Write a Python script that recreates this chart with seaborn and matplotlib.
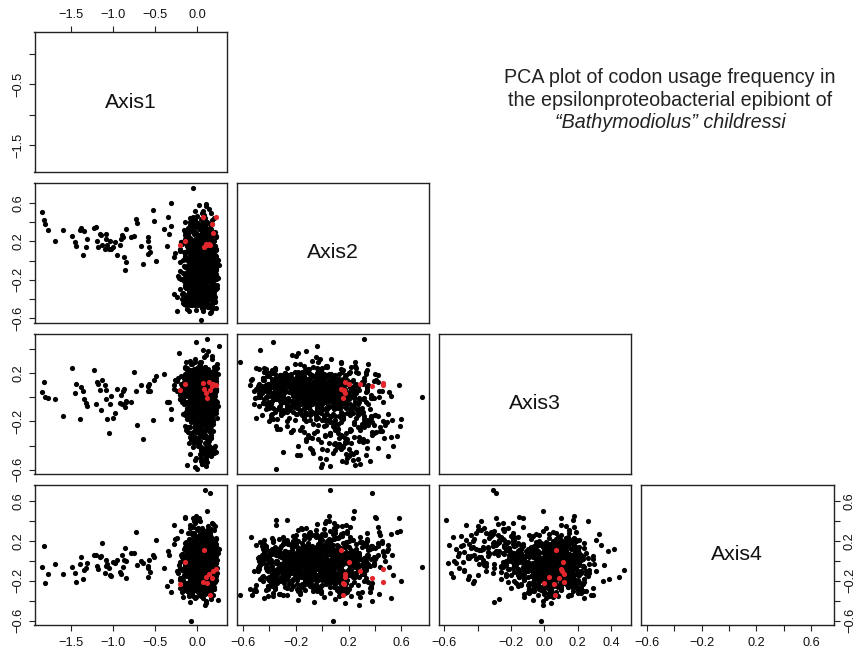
import matplotlib
matplotlib.use("Agg")
import matplotlib.pyplot as plt
import numpy as np
import pandas as pd
import seaborn as sns

sns.set_style("ticks")
plt.rcParams["font.family"] = ["Liberation Sans", "DejaVu Sans"]

# ---------------- data (PC scores) ----------------
axis_names = ["Axis1", "Axis2", "Axis3", "Axis4"]

# genes forming the long negative tail on Axis1
tail_axis1 = [-1.84,-1.82,-1.81,-1.78,-1.69,-1.60,-1.49,-1.45,-1.44,-1.39,-1.38,-1.36,-1.35,-1.32,-1.31,-1.23,-1.20,-1.19,-1.18,-1.15,
              -1.14,-1.13,-1.10,-1.09,-1.08,-1.07,-1.05,-1.04,-1.02,-1.00,-0.98,-0.95,-0.92,-0.91,-0.89,-0.88,-0.87,-0.85,-0.85,-0.86,
              -0.79,-0.75,-0.73,-0.71,-0.67,-0.65,-0.59,-0.58,-0.59,-0.56,-0.57,-0.53,-0.51,-0.49,-0.39,-0.36,-0.35,-0.31]
tail_axis2 = [0.51,0.42,0.38,0.32,0.20,0.32,0.26,0.19,0.15,0.32,0.34,0.06,0.31,0.14,0.23,0.34,0.35,0.21,0.14,0.28,
              0.27,0.16,0.12,0.23,0.28,0.16,0.12,0.21,0.12,0.14,0.19,0.06,0.16,0.23,0.27,0.25,0.04,0.33,-0.01,-0.10,
              0.25,0.26,0.43,0.39,0.15,-0.03,0.25,0.21,0.07,0.09,0.14,0.53,0.41,0.00,0.33,0.15,0.46,0.60]
tail_axis3 = [0.04,0.12,0.00,-0.01,-0.02,-0.16,0.24,0.03,0.11,-0.18,0.08,0.05,-0.02,-0.05,-0.07,0.22,-0.06,0.12,0.11,0.06,
              -0.11,0.14,0.10,0.06,-0.02,-0.18,-0.30,-0.06,0.01,-0.17,-0.13,0.07,-0.05,0.02,-0.06,0.05,0.07,-0.04,-0.03,-0.08,
              -0.04,0.21,0.05,-0.23,0.10,-0.35,0.09,0.05,0.09,0.05,0.11,-0.19,0.14,0.17,0.19,-0.04,-0.04,-0.18]
tail_axis4 = [-0.06,0.15,-0.22,-0.13,-0.03,-0.13,-0.06,-0.12,-0.21,-0.03,0.04,-0.18,-0.09,-0.07,-0.02,0.06,0.06,-0.05,-0.08,0.04,
              0.05,0.18,-0.12,0.01,-0.05,-0.03,-0.07,-0.14,-0.15,-0.01,-0.02,0.01,-0.11,-0.13,0.06,-0.06,0.01,-0.17,0.00,0.13,
              0.08,0.08,0.29,-0.04,0.00,-0.02,-0.16,-0.05,-0.07,-0.11,0.01,0.06,0.04,0.21,-0.07,-0.25,0.10,-0.20]

# broad cloud of genes
core_axis1 = [0.05,-0.08,0.14,0.21,-0.02,0.09,-0.15,0.17,0.03,-0.05,0.11,0.24,-0.11,0.07,0.19,-0.03,0.12,0.01,-0.27,0.16,
              0.08,-0.06,0.22,0.13,-0.09,0.04,0.18,-0.13,0.10,0.02,-0.04,0.15,0.06,-0.18,0.20,0.11,-0.01,0.25,0.07,-0.07,
              0.13,0.00,-0.10,0.17,0.09,-0.22,0.05,0.14,-0.03,0.19,0.03,-0.12,0.10,0.23,-0.06,0.08,0.16,-0.08,0.01,0.12,
              -0.16,0.06,0.20,-0.02,0.11,0.15,-0.09,0.04,0.18,-0.05,0.26,0.09,-0.14,0.02,0.13,0.07,-0.31,0.17,-0.04,0.10,
              0.21,-0.07,0.03,0.14,-0.11,0.08,0.19,0.00,-0.17,0.12,0.05,0.16,-0.03,0.22,0.09,-0.08,0.01,0.15,-0.12,0.06,
              0.11,-0.24,0.18,0.04,-0.06,0.13,0.24,-0.01,0.07,-0.13,0.16,0.10,-0.04,0.02,0.20,-0.09,0.14,0.06,-0.19,0.09,
              -0.02,0.17,0.08,-0.10,0.12,0.03,0.21,-0.05,0.15,-0.15,0.05,0.11,-0.07,0.18,0.00,0.13,-0.21,0.07,0.23,-0.03,
              0.10,0.04,-0.12,0.16,0.19,-0.08,0.02,0.14,-0.28,0.08,0.12,-0.01,0.22,0.05,-0.16,0.17,0.09,-0.06,0.03,0.15,
              -0.04,0.20,0.07,-0.14,0.11,0.01,0.18,-0.09,0.13,0.06,-0.02,0.25,-0.11,0.09,0.16,0.04,-0.20,0.12,0.00,0.19,
              0.14,-0.05,0.08,0.21,-0.17,0.03,0.10,-0.07,0.17,0.05,-0.10,0.13,0.24,-0.03,0.07,-0.23,0.15,0.02,0.11,-0.01,
              0.06,0.18,-0.08,0.12,-0.13,0.20,0.04,0.09,-0.05,0.16,0.01,-0.18,0.14,0.08,-0.02,0.22,0.11,-0.34,0.05,0.13,
              -0.06,0.10,0.17,0.02,-0.12,0.07,0.19,-0.04,0.12,0.15,-0.09,0.03,0.21,-0.15,0.09,0.06,-0.01,0.18,0.11,-0.26]
core_axis2 = [-0.12,0.08,-0.31,0.15,-0.04,-0.22,0.27,-0.09,0.02,-0.41,0.11,-0.17,0.34,-0.01,-0.26,0.06,-0.13,0.19,-0.35,0.00,
              0.23,-0.07,-0.19,0.04,-0.46,0.13,-0.02,-0.28,0.38,-0.11,0.09,-0.15,-0.36,0.17,-0.05,0.30,-0.23,0.01,-0.52,0.12,
              -0.08,0.21,-0.33,-0.03,0.07,-0.18,0.43,-0.12,-0.27,0.05,-0.39,0.16,-0.06,0.25,-0.21,-0.01,0.10,-0.44,0.03,-0.14,
              0.32,-0.10,-0.24,0.14,-0.30,0.02,-0.16,0.20,-0.48,0.08,-0.04,0.28,-0.20,-0.37,0.11,-0.07,0.36,-0.13,-0.02,0.18,
              -0.29,0.06,-0.11,0.24,-0.42,-0.05,0.13,-0.25,0.01,0.40,-0.16,-0.34,0.09,-0.08,0.22,-0.19,0.04,-0.55,0.15,-0.03,
              0.10,-0.38,0.26,-0.14,-0.01,0.17,-0.28,0.05,-0.47,0.31,-0.09,-0.22,0.12,-0.32,0.45,-0.06,0.02,-0.18,0.19,-0.40,
              -0.15,0.03,0.29,-0.26,-0.07,0.14,-0.43,0.08,-0.12,0.21,-0.35,0.00,0.37,-0.20,-0.04,0.11,-0.30,0.16,-0.10,0.52,
              -0.23,0.07,-0.50,0.18,-0.02,-0.13,0.33,-0.29,0.04,-0.08,0.24,-0.37,0.12,-0.17,-0.45,0.09,0.02,-0.21,0.27,-0.06,
              0.15,-0.33,-0.09,0.05,-0.24,0.39,-0.14,-0.03,0.20,-0.49,0.07,-0.18,0.13,-0.36,0.01,0.26,-0.11,-0.27,0.10,-0.05,
              -0.40,0.18,-0.07,0.30,-0.19,0.03,-0.31,0.12,-0.54,0.06,0.22,-0.12,-0.25,0.35,-0.01,-0.16,0.08,-0.43,0.17,-0.09,
              0.02,-0.27,0.14,-0.38,0.25,-0.06,-0.20,0.09,0.42,-0.32,-0.10,0.19,-0.15,0.04,-0.46,0.11,-0.23,0.28,-0.02,-0.34,
              0.16,-0.13,0.06,-0.30,0.21,-0.44,-0.04,0.10,-0.21,0.33,-0.08,0.00,-0.38,0.23,-0.16,0.13,-0.51,0.05,-0.26,0.08]
core_axis3 = [0.05,-0.08,0.12,0.01,0.20,-0.03,0.09,-0.14,0.16,0.03,-0.05,0.27,0.07,-0.11,0.13,0.00,0.22,-0.02,0.10,-0.19,
              0.14,0.02,-0.07,0.18,0.06,-0.16,0.31,0.04,-0.01,0.11,-0.10,0.08,0.24,-0.04,0.15,-0.23,0.03,0.19,-0.06,0.09,
              -0.02,0.21,0.07,-0.12,0.12,0.36,0.00,-0.08,0.17,0.05,-0.15,0.10,0.02,0.26,-0.05,0.14,-0.27,0.08,0.04,-0.09,
              0.16,-0.04,0.11,0.29,-0.13,0.06,0.01,0.20,-0.07,0.13,0.42,-0.01,0.09,-0.18,0.03,0.17,-0.10,0.07,0.23,-0.03,
              0.08,-0.21,0.15,0.02,-0.06,0.33,0.11,-0.11,0.05,0.19,-0.02,0.12,-0.25,0.06,0.25,0.00,-0.14,0.10,0.04,0.16,
              -0.09,0.13,0.03,-0.17,0.22,0.07,-0.04,0.18,0.39,-0.12,0.09,0.01,0.14,-0.07,0.05,-0.30,0.11,0.21,-0.01,0.06,
              0.12,0.00,-0.13,0.17,0.04,0.28,-0.06,0.10,-0.20,0.08,0.15,-0.03,0.02,0.34,-0.10,0.13,0.06,-0.16,0.20,0.01,
              -0.05,0.09,0.24,-0.08,0.14,0.03,-0.22,0.11,0.07,0.18,-0.01,0.45,0.05,-0.12,0.16,-0.04,0.10,0.27,-0.15,0.02,
              0.07,-0.10,0.19,0.04,-0.03,0.13,-0.18,0.22,0.00,0.09,0.31,-0.07,0.15,0.06,-0.24,0.11,0.03,-0.02,0.17,0.08,
              0.20,-0.06,0.02,0.12,-0.14,0.26,0.05,-0.09,0.14,-0.01,0.08,0.38,-0.17,0.10,0.01,0.16,-0.05,0.23,0.04,-0.11,
              0.03,0.15,-0.12,0.09,0.29,-0.02,0.06,-0.20,0.18,0.11,-0.08,0.00,0.21,0.05,-0.15,0.13,0.35,-0.04,0.08,-0.26,
              0.10,-0.03,0.17,0.02,-0.10,0.24,0.07,-0.19,0.12,0.04,0.30,-0.06,0.15,-0.13,0.01,0.19,-0.01,0.09,-0.08,0.14]
core_axis4 = [-0.05,0.12,-0.18,0.03,-0.29,0.20,-0.09,0.07,-0.01,-0.35,0.16,-0.12,0.28,-0.04,0.09,-0.22,0.01,-0.14,0.36,-0.07,
              0.05,-0.26,0.14,-0.02,-0.16,0.24,-0.10,0.00,-0.40,0.11,-0.06,0.18,-0.21,0.04,0.31,-0.13,-0.03,0.08,-0.30,0.15,
              -0.11,0.02,0.22,-0.19,0.06,-0.04,-0.33,0.13,0.41,-0.08,0.01,-0.24,0.10,-0.15,0.19,-0.02,-0.38,0.07,-0.12,0.26,
              0.00,-0.17,0.09,-0.27,0.17,-0.06,0.33,-0.10,0.04,-0.20,0.12,-0.44,-0.01,0.21,-0.13,0.06,-0.31,0.14,-0.05,0.02,
              0.19,-0.08,-0.23,0.10,-0.03,0.27,-0.15,0.05,-0.36,0.13,-0.11,0.00,0.38,-0.19,0.08,-0.06,0.16,-0.28,0.03,-0.14,
              -0.02,0.23,-0.12,0.07,-0.32,0.15,-0.07,0.45,-0.18,0.01,0.11,-0.25,0.04,-0.09,0.20,-0.41,0.09,-0.04,0.30,-0.16,
              0.08,-0.21,0.02,0.18,-0.10,-0.34,0.13,-0.05,0.25,-0.14,0.06,-0.01,-0.27,0.16,-0.08,0.35,-0.19,0.03,0.11,-0.37,
              0.14,-0.04,-0.30,0.09,0.22,-0.12,0.00,-0.22,0.17,-0.07,0.50,-0.16,0.05,-0.33,0.12,-0.02,0.26,-0.09,-0.24,0.07,
              -0.13,0.10,0.29,-0.05,-0.20,0.04,0.15,-0.28,0.01,-0.10,0.21,-0.39,0.06,-0.15,0.32,0.00,-0.07,0.18,-0.23,0.11,
              0.03,-0.29,0.13,-0.11,0.07,0.40,-0.17,-0.03,0.24,-0.08,-0.35,0.10,0.01,-0.21,0.16,-0.12,0.27,0.05,-0.42,-0.01,
              0.17,-0.06,-0.18,0.11,0.02,-0.26,0.20,-0.14,0.34,-0.04,0.08,-0.31,0.14,-0.09,-0.01,0.23,-0.20,0.06,0.12,-0.11,
              -0.24,0.04,0.19,-0.07,0.09,-0.37,0.01,0.28,-0.13,0.15,-0.03,-0.19,0.07,0.43,-0.10,0.00,-0.28,0.13,-0.05,0.22]

# dense centre of the cloud (first batch)
dense_axis1 = [0.07,0.15,-0.03,0.11,0.02,0.19,0.09,-0.08,0.13,0.05,0.17,0.00,0.10,0.22,0.04,-0.05,0.14,0.08,0.18,0.01,
               0.12,-0.01,0.16,0.06,0.20,0.03,-0.10,0.11,0.09,0.15,-0.04,0.07,0.13,0.02,0.21,0.10,-0.02,0.17,0.05,0.12,
               0.04,0.18,0.09,-0.06,0.14,0.01,0.11,0.23,0.06,-0.12,0.16,0.08,0.03,0.19,-0.01,0.13,0.07,0.10,-0.07,0.15,
               0.09,0.02,0.20,0.12,-0.03,0.06,0.17,0.00,0.14,0.08,0.22,-0.09,0.11,0.04,0.16,0.10,0.01,0.18,0.05,-0.04,
               0.13,0.07,-0.02,0.19,0.10,0.03,0.15,-0.11,0.08,0.12,0.00,0.17,0.06,0.21,0.09,-0.05,0.14,0.02,0.11,0.16,
               -0.06,0.10,0.05,0.18,0.13,-0.01,0.08,0.20,0.03,0.15,0.11,-0.08,0.07,0.17,0.01,0.12,0.24,0.04,0.09,-0.03,
               0.16,0.06,0.11,-0.04,0.19,0.08,0.02,0.14,-0.13,0.10,0.05,0.18,0.12,-0.02,0.07,0.21,0.00,0.15,0.09,0.03,
               0.11,-0.07,0.17,0.04,0.09,0.14,-0.01,0.20,0.06,0.12,0.02,-0.10,0.16,0.08,0.13,0.05,0.19,-0.04,0.10,0.07,
               0.03,0.15,0.08,0.22,-0.05,0.12,0.06,0.17,0.01,-0.09,0.14,0.10,0.04,0.19,0.09,-0.02,0.13,0.07,0.18,0.11,
               0.14,0.00,0.09,-0.03,0.16,0.05,0.21,0.11,-0.08,0.07,0.18,0.02,0.13,0.06,-0.01,0.10,0.15,0.04,0.20,0.08,
               -0.02,0.12,0.17,0.07,0.03,0.14,-0.06,0.19,0.10,0.05,0.16,0.01,-0.11,0.13,0.08,0.22,0.04,0.11,0.00,0.15,
               0.09,0.18,0.02,-0.04,0.12,0.06,0.15,0.10,0.20,-0.07,0.08,0.13,0.03,0.17,0.11,-0.01,0.07,0.14,0.05,0.19,
               0.06,-0.03,0.13,0.16,0.01,0.10,0.21,0.04,-0.09,0.15,0.08,0.12,-0.02,0.18,0.07,0.03,0.11,0.23,0.09,0.00,
               0.17,0.05,0.10,-0.05,0.14,0.08,0.02,0.19,0.12,-0.12,0.06,0.16,0.11,0.01,0.13,0.09,-0.03,0.18,0.04,0.10]
dense_axis2 = [-0.14,0.05,-0.27,-0.06,0.18,-0.33,-0.10,0.09,-0.21,0.01,-0.40,-0.03,0.24,-0.17,-0.08,0.12,-0.29,-0.01,-0.45,0.07,
               -0.19,0.15,-0.05,-0.36,0.03,-0.12,0.30,-0.24,-0.09,0.10,-0.31,-0.02,0.20,-0.16,-0.42,0.06,-0.07,-0.26,0.13,-0.11,
               0.00,-0.22,-0.38,0.17,-0.04,-0.15,0.08,-0.30,0.26,-0.12,-0.47,0.02,-0.20,0.11,-0.07,-0.34,0.04,-0.18,0.35,-0.09,
               -0.25,0.09,-0.13,-0.02,-0.41,0.14,-0.06,-0.28,0.21,-0.17,0.03,-0.35,-0.10,0.16,-0.23,-0.04,0.07,-0.49,-0.14,0.28,
               -0.08,-0.32,0.11,-0.19,0.01,-0.43,0.19,-0.05,-0.26,0.06,-0.13,0.33,-0.37,-0.01,0.10,-0.22,-0.11,0.04,-0.30,0.15,
               0.02,-0.16,-0.44,0.08,-0.09,0.22,-0.27,-0.03,0.13,-0.20,-0.38,0.05,-0.12,0.18,-0.06,-0.31,0.00,-0.15,0.39,-0.24,
               -0.11,0.12,-0.35,-0.07,0.04,-0.21,0.27,-0.14,-0.46,0.09,-0.02,-0.28,0.16,-0.18,-0.05,0.06,-0.39,-0.10,0.23,-0.03,
               -0.29,0.01,-0.12,0.19,-0.24,-0.06,0.10,-0.36,-0.15,0.31,-0.01,-0.20,0.07,-0.42,-0.08,0.14,-0.27,0.03,-0.13,-0.50,
               0.17,-0.09,-0.23,0.05,-0.33,-0.04,0.25,-0.17,0.00,-0.40,0.11,-0.12,-0.26,0.08,-0.07,0.37,-0.19,-0.02,-0.34,0.13,
               -0.05,-0.28,0.03,-0.15,0.20,-0.37,-0.10,0.06,-0.22,0.15,-0.03,-0.45,0.09,-0.18,0.29,-0.08,-0.30,0.02,-0.13,0.10,
               -0.21,0.07,-0.39,-0.11,0.14,-0.04,-0.25,0.21,-0.16,0.00,-0.32,0.11,-0.07,-0.48,0.04,-0.19,0.18,-0.02,-0.28,0.34,
               -0.12,0.02,0.26,-0.35,-0.08,0.13,-0.18,-0.41,0.06,-0.01,-0.23,0.17,-0.14,0.08,-0.30,-0.05,0.22,-0.20,0.01,-0.37,
               0.09,-0.26,-0.06,0.15,-0.43,-0.11,0.04,-0.17,0.32,-0.02,-0.31,0.10,-0.09,-0.22,0.19,-0.38,0.00,-0.14,0.12,-0.04,
               -0.33,0.06,-0.16,-0.01,0.24,-0.27,-0.07,0.11,-0.44,0.03,-0.20,0.16,-0.10,-0.36,0.07,-0.03,-0.24,0.20,-0.12,0.00]
dense_axis3 = [0.06,-0.03,0.12,0.02,0.18,-0.08,0.09,0.04,0.15,-0.01,0.07,0.22,0.00,0.11,-0.12,0.05,0.14,0.03,-0.05,0.19,
               0.08,0.13,-0.02,0.05,0.25,0.01,-0.09,0.10,0.16,0.04,-0.15,0.07,0.12,-0.04,0.20,0.02,0.09,-0.07,0.14,0.06,
               -0.01,0.11,0.03,0.17,-0.06,0.08,0.13,-0.11,0.05,0.21,0.00,0.10,-0.03,0.15,0.06,-0.18,0.12,0.04,0.27,0.07,
               0.14,0.02,-0.05,0.09,0.19,0.05,-0.13,0.11,0.01,0.16,0.07,-0.02,0.23,0.04,-0.08,0.12,0.08,0.00,0.17,-0.10,
               0.03,0.18,0.09,-0.04,0.13,0.06,0.01,-0.16,0.10,0.15,0.04,0.21,-0.01,0.08,0.12,-0.07,0.05,0.26,0.02,0.11,
               0.10,-0.06,0.14,0.03,0.07,-0.12,0.17,0.00,0.12,0.05,-0.03,0.19,0.08,-0.09,0.13,0.02,0.24,0.06,-0.01,0.09,
               -0.04,0.07,0.16,0.11,-0.10,0.04,0.20,0.01,0.09,-0.02,0.13,0.06,-0.14,0.17,0.03,0.10,-0.05,0.15,0.08,0.29,
               0.05,0.12,-0.07,0.02,0.15,0.09,-0.01,0.22,0.04,0.11,-0.11,0.06,0.18,0.00,0.08,0.14,-0.04,0.03,0.10,-0.17,
               0.13,0.01,0.08,-0.08,0.16,0.05,0.11,-0.03,0.20,0.07,0.02,-0.13,0.12,0.09,0.25,-0.01,0.06,0.14,0.03,-0.06,
               0.09,-0.02,0.18,0.06,0.00,0.13,-0.09,0.10,0.04,0.21,0.07,-0.05,0.15,0.02,-0.12,0.11,0.08,0.17,-0.03,0.05,
               0.01,0.14,-0.06,0.10,0.23,0.04,0.08,-0.15,0.12,0.03,0.18,-0.02,0.06,0.11,-0.08,0.16,0.00,0.09,0.20,0.05,
               0.11,0.04,-0.10,0.15,0.07,0.01,0.19,-0.04,0.09,0.13,-0.07,0.03,0.26,0.06,-0.01,0.12,0.08,-0.14,0.17,0.02,
               0.07,0.16,0.02,-0.05,0.10,0.22,0.05,-0.11,0.13,0.00,0.09,0.18,-0.03,0.04,0.14,0.08,-0.09,0.11,0.01,0.24,
               -0.02,0.10,0.06,0.17,0.03,-0.07,0.12,0.08,0.21,-0.04,0.05,0.15,0.01,-0.12,0.09,0.19,0.04,-0.01,0.13,0.07]
dense_axis4 = [-0.03,0.08,-0.14,0.01,-0.22,0.12,-0.07,-0.01,0.18,-0.11,0.04,-0.28,-0.05,0.10,-0.17,0.02,-0.09,0.23,-0.02,-0.13,
               0.06,-0.20,-0.04,0.14,-0.10,0.00,-0.31,0.09,-0.06,0.03,-0.16,0.20,-0.08,-0.24,0.05,-0.01,0.11,-0.12,-0.35,0.07,
               -0.09,0.02,-0.18,0.16,-0.05,-0.26,0.08,-0.02,0.12,-0.14,0.04,-0.07,0.26,-0.21,0.00,-0.11,0.06,-0.30,-0.03,0.13,
               0.01,-0.15,0.10,-0.08,-0.25,0.05,-0.01,0.19,-0.12,-0.04,0.08,-0.19,0.02,-0.33,0.14,-0.06,-0.10,0.03,0.22,-0.16,
               -0.12,0.07,-0.02,-0.23,0.11,-0.07,0.00,-0.14,0.17,-0.05,-0.29,0.04,-0.09,0.09,-0.18,0.25,-0.03,-0.11,0.06,-0.20,
               0.03,-0.10,0.15,-0.04,-0.17,0.01,-0.27,0.10,-0.06,0.05,-0.13,0.21,-0.01,-0.22,0.07,-0.08,0.13,-0.15,-0.02,0.02,
               -0.06,0.12,-0.19,0.00,-0.09,0.17,-0.32,-0.03,0.06,-0.13,0.09,-0.05,-0.24,0.03,0.14,-0.11,-0.01,0.28,-0.16,0.05,
               0.09,-0.02,-0.14,0.04,-0.21,0.13,-0.07,-0.28,0.01,0.18,-0.10,-0.04,0.07,-0.17,0.11,-0.08,-0.34,0.02,-0.12,0.16,
               -0.15,0.05,-0.03,0.22,-0.11,-0.25,0.08,-0.06,0.00,-0.19,0.12,-0.01,-0.13,0.04,-0.30,0.15,-0.08,0.06,-0.22,0.10,
               -0.04,-0.18,0.11,0.01,-0.12,0.19,-0.07,-0.26,0.03,-0.02,0.14,-0.15,0.07,-0.09,-0.36,0.00,0.24,-0.05,-0.20,0.09,
               0.04,-0.13,-0.06,0.16,-0.23,0.02,-0.10,0.08,-0.16,0.27,-0.03,-0.29,0.05,-0.08,0.12,-0.19,0.01,-0.12,0.10,-0.05,
               -0.21,0.06,-0.01,-0.14,0.13,-0.07,0.20,-0.25,0.00,-0.11,0.08,-0.32,0.03,-0.04,0.17,-0.17,-0.09,0.05,-0.02,0.11,
               0.07,-0.08,-0.27,0.02,0.15,-0.12,-0.03,0.10,-0.20,0.04,-0.06,0.23,-0.15,0.00,-0.10,0.12,-0.24,0.06,-0.01,-0.18,
               -0.05,0.16,-0.11,-0.30,0.03,-0.02,0.09,-0.16,0.21,-0.07,0.01,-0.22,0.11,-0.13,-0.04,0.06,-0.28,0.14,-0.09,0.02]

# dense centre of the cloud (second batch, shifted towards negative Axis2)
dense2_axis1 = [-0.05,0.12,0.03,-0.14,0.08,0.19,-0.02,0.06,-0.09,0.15,0.01,-0.18,0.10,0.04,-0.06,0.21,0.07,-0.11,0.13,0.00,
                0.09,-0.03,0.16,-0.12,0.05,0.02,-0.20,0.11,-0.07,0.18,0.03,-0.01,0.14,-0.15,0.07,0.22,-0.04,0.10,-0.09,0.04,
                0.17,-0.08,0.01,0.12,-0.16,0.06,0.20,-0.02,0.09,-0.13,0.15,0.02,-0.06,0.11,-0.19,0.05,0.13,-0.10,0.08,0.00,
                -0.04,0.14,-0.11,0.07,0.18,-0.01,0.03,-0.17,0.10,0.05,-0.07,0.16,0.01,-0.13,0.12,0.08,-0.03,0.23,-0.09,0.06,
                0.02,-0.14,0.11,0.19,-0.05,0.08,-0.21,0.13,0.04,-0.02,0.16,-0.10,0.07,0.01,-0.16,0.14,0.10,-0.06,0.03,0.20,
                -0.08,0.05,0.15,-0.12,0.09,0.00,0.18,-0.04,0.12,-0.15,0.06,0.02,-0.09,0.17,0.04,-0.18,0.11,0.07,-0.01,0.14,
                0.10,-0.06,0.03,0.21,-0.13,0.07,-0.02,0.15,0.01,-0.10,0.12,0.05,-0.17,0.09,0.18,-0.03,0.06,-0.08,0.13,0.02,
                -0.11,0.16,0.04,-0.05,0.11,-0.19,0.08,0.14,-0.01,0.03,-0.12,0.19,0.06,-0.07,0.10,0.00,-0.15,0.13,0.05,-0.03,
                0.07,0.01,-0.10,0.15,-0.04,0.11,0.20,-0.14,0.04,0.09,-0.06,0.02,0.17,-0.20,0.08,-0.01,0.12,0.06,-0.11,0.16,
                0.03,-0.16,0.09,0.13,-0.07,0.05,-0.02,0.18,-0.12,0.10,0.01,-0.08,0.14,0.07,-0.14,0.22,0.00,-0.05,0.11,0.04,
                -0.09,0.08,0.17,-0.03,0.12,-0.17,0.02,0.06,-0.10,0.15,0.10,-0.01,-0.13,0.19,0.05,-0.06,0.09,0.13,-0.19,0.03,
                0.14,-0.04,0.06,-0.15,0.10,0.01,0.18,-0.08,0.04,0.12,-0.11,0.07,0.16,-0.02,0.09,-0.16,0.03,0.11,-0.05,0.08]
dense2_axis2 = [-0.22,-0.05,-0.31,0.08,-0.14,-0.40,-0.09,0.02,-0.26,-0.17,0.13,-0.35,-0.02,-0.20,-0.46,-0.11,0.05,-0.28,-0.07,0.18,
                -0.33,-0.12,0.00,-0.24,-0.43,-0.06,0.10,-0.18,-0.30,-0.01,-0.38,-0.15,0.06,-0.27,-0.08,-0.49,-0.19,0.14,-0.04,-0.35,
                -0.10,-0.29,0.03,-0.21,-0.41,-0.13,0.20,-0.07,-0.34,-0.16,0.01,-0.25,-0.44,-0.03,-0.19,0.09,-0.37,-0.11,-0.23,0.04,
                -0.16,0.11,-0.36,-0.08,-0.27,0.02,-0.45,-0.13,-0.20,0.16,-0.31,-0.04,-0.23,-0.39,0.07,-0.10,-0.28,-0.01,-0.17,-0.48,
                0.05,-0.25,-0.12,-0.42,-0.02,-0.18,0.12,-0.33,-0.09,-0.22,-0.37,0.03,-0.14,-0.29,-0.06,0.22,-0.41,-0.20,-0.11,-0.03,
                -0.30,-0.07,0.09,-0.19,-0.47,-0.12,-0.26,0.01,-0.35,-0.15,-0.04,0.15,-0.32,-0.21,-0.08,-0.40,0.04,-0.24,-0.13,-0.01,
                -0.18,0.06,-0.38,-0.10,-0.23,-0.02,-0.44,0.17,-0.15,-0.28,-0.06,0.00,-0.34,-0.12,-0.50,-0.20,0.08,-0.27,-0.05,-0.16,
                -0.09,-0.36,0.02,-0.24,-0.14,0.19,-0.31,-0.03,-0.42,-0.17,0.10,-0.26,-0.08,-0.39,-0.11,-0.21,0.04,-0.47,-0.02,-0.29,
                -0.13,0.13,-0.27,-0.05,-0.35,-0.19,0.00,-0.43,-0.10,-0.22,0.07,-0.32,-0.16,-0.01,-0.38,-0.08,0.24,-0.25,-0.14,-0.45,
                -0.04,-0.21,-0.33,0.03,-0.11,-0.40,-0.18,0.11,-0.28,-0.06,-0.46,-0.15,0.05,-0.24,-0.36,-0.09,-0.01,-0.30,0.14,-0.20,
                -0.37,-0.12,0.08,-0.26,-0.03,-0.44,-0.17,0.01,-0.31,-0.08,-0.22,0.18,-0.39,-0.14,-0.05,-0.27,0.06,-0.48,-0.19,-0.10,
                0.00,-0.32,-0.15,-0.07,-0.41,0.12,-0.23,-0.02,-0.35,-0.18,0.03,-0.28,-0.11,-0.43,-0.06,0.09,-0.25,-0.13,-0.38,-0.04]
dense2_axis3 = [0.02,0.10,-0.05,0.14,0.04,-0.09,0.07,0.18,-0.02,0.11,0.00,0.06,-0.12,0.15,0.03,0.21,-0.07,0.09,0.01,-0.03,
                0.12,-0.01,0.05,0.19,-0.10,0.08,0.02,-0.04,0.16,0.06,-0.14,0.10,0.03,0.24,-0.06,0.07,0.13,-0.02,0.04,-0.11,
                -0.03,0.15,0.06,-0.08,0.11,0.01,0.20,-0.05,0.09,0.03,-0.16,0.13,0.05,-0.01,0.17,0.08,-0.09,0.02,0.12,0.04,
                0.07,-0.06,0.13,0.02,-0.12,0.09,0.16,0.00,-0.03,0.22,0.05,-0.08,0.10,0.01,0.14,-0.04,0.06,-0.13,0.18,0.03,
                0.10,0.04,-0.07,0.17,0.00,0.12,-0.02,0.07,-0.15,0.14,0.03,0.09,-0.05,0.19,0.01,-0.10,0.11,0.05,0.23,-0.01,
                -0.04,0.08,0.14,-0.09,0.05,0.01,0.18,0.10,-0.02,0.06,-0.11,0.13,0.03,0.21,-0.06,0.09,0.00,0.15,-0.13,0.04,
                0.06,-0.02,0.11,0.03,0.16,-0.08,0.08,-0.01,0.13,0.20,-0.05,0.02,0.10,-0.14,0.07,0.12,0.04,-0.07,0.17,0.00,
                0.09,0.14,-0.04,0.05,-0.10,0.11,0.02,0.19,-0.06,0.07,0.15,-0.01,0.04,-0.17,0.12,0.08,0.25,0.01,-0.03,0.10,
                0.03,-0.09,0.16,0.07,0.00,0.13,-0.05,0.10,0.05,-0.12,0.18,0.02,0.08,-0.02,0.22,0.06,-0.08,0.11,0.04,0.14,
                -0.01,0.12,0.04,-0.11,0.09,0.17,0.03,-0.06,0.14,0.00,0.07,-0.15,0.10,0.05,0.19,-0.03,0.13,0.02,-0.08,0.06,
                0.11,0.01,-0.07,0.15,0.06,-0.02,0.20,0.08,-0.13,0.04,0.12,0.00,-0.04,0.16,0.09,-0.10,0.03,0.23,0.05,-0.05,
                0.08,-0.03,0.13,0.02,-0.09,0.10,0.06,0.18,-0.01,0.11,-0.14,0.05,0.15,0.00,0.07,-0.06,0.12,0.03,0.20,0.01]
dense2_axis4 = [-0.08,-0.19,0.04,-0.12,-0.02,0.10,-0.25,-0.06,0.01,-0.15,-0.31,0.07,-0.10,-0.03,0.15,-0.21,-0.07,0.02,-0.14,-0.27,
                0.05,-0.11,-0.01,-0.22,0.12,-0.05,-0.17,0.00,-0.34,-0.09,0.08,-0.13,-0.04,0.18,-0.24,-0.07,0.03,-0.16,-0.29,-0.02,
                -0.14,0.06,-0.20,-0.05,-0.10,0.14,-0.28,-0.01,-0.13,0.03,-0.08,-0.23,0.09,-0.04,-0.17,0.01,-0.32,-0.09,0.11,-0.06,
                -0.02,-0.16,0.08,-0.26,-0.07,-0.12,0.02,-0.19,0.16,-0.10,-0.04,-0.30,0.05,-0.15,-0.01,-0.22,0.10,-0.08,-0.13,0.00,
                -0.21,-0.03,0.13,-0.09,-0.18,0.04,-0.27,-0.06,-0.11,0.07,-0.35,-0.02,-0.14,0.20,-0.08,-0.24,0.01,-0.12,-0.05,0.09,
                -0.10,0.03,-0.15,-0.28,-0.04,0.11,-0.19,-0.07,0.00,-0.23,0.06,-0.12,-0.33,-0.01,0.15,-0.09,-0.17,0.04,-0.06,-0.25,
                0.07,-0.13,-0.05,-0.20,0.02,-0.09,0.17,-0.30,-0.03,-0.14,0.05,-0.18,-0.08,0.12,-0.24,0.00,-0.11,-0.02,-0.16,0.10,
                -0.06,-0.26,0.01,-0.12,0.08,-0.19,-0.04,0.14,-0.09,-0.31,0.03,-0.15,-0.01,-0.22,0.06,-0.07,-0.13,0.19,-0.28,-0.03,
                -0.17,0.04,-0.08,-0.23,0.10,-0.02,-0.12,-0.29,0.06,-0.05,-0.18,0.13,-0.10,-0.01,-0.25,0.02,-0.15,0.08,-0.06,-0.20,
                0.00,-0.14,-0.33,0.05,-0.08,-0.19,0.12,-0.04,-0.26,-0.11,0.03,-0.16,0.21,-0.07,-0.22,-0.02,0.07,-0.13,-0.29,0.01,
                -0.09,0.09,-0.21,-0.03,-0.15,0.02,-0.27,-0.06,0.15,-0.12,-0.18,0.04,-0.01,-0.24,0.11,-0.10,-0.32,-0.05,0.06,-0.14,
                -0.04,-0.20,0.07,-0.11,-0.28,0.01,-0.07,0.16,-0.17,-0.02,-0.23,0.05,-0.13,-0.06,0.13,-0.26,-0.09,0.03,-0.19,-0.01]

# genes with low Axis3 scores (lower-right lobe in Axis2/Axis3, left lobe in Axis3/Axis4)
side_axis1 = [0.04,-0.07,0.12,0.08,-0.02,0.15,0.01,-0.11,0.10,0.06,0.18,-0.04,0.03,0.13,-0.09,0.07,0.20,0.00,0.11,-0.05,
              0.09,0.14,-0.13,0.05,0.02,0.17,-0.01,0.08,-0.06,0.12,0.04,0.22,-0.03,0.10,0.06,-0.15,0.15,0.01,0.07,-0.08,
              0.13,0.03,0.19,-0.02,0.09,0.05,-0.10,0.16,0.00,0.11,0.06,-0.04,0.14,0.08,-0.12,0.02,0.18,0.10,-0.07,0.04,
              0.12,-0.01,0.07,0.21,-0.05,0.09,0.03,0.15,-0.09,0.06,0.11,0.00,-0.03,0.17,0.08,-0.14,0.05,0.13,0.02,0.10,
              -0.06,0.16,0.07,0.01,0.12,-0.02,0.09,0.04,0.19,-0.08,
              0.06,-0.03,0.14,0.01,0.10,-0.08,0.17,0.04,-0.01,0.12,0.08,-0.11,0.03,0.15,0.00,0.09,-0.05,0.19,0.05,0.11,
              -0.02,0.07,0.13,-0.09,0.02,0.16,0.06,-0.04,0.10,0.01,0.14,-0.06,0.08,0.03,0.18,-0.01,0.11,0.05,-0.12,0.09,
              0.04,0.13,-0.03,0.07,0.20,0.00,0.10,-0.07,0.06,0.15,0.02,-0.05,0.12,0.08,-0.02,0.17,0.03,0.09,-0.10,0.05]
side_axis2 = [0.12,0.31,-0.05,0.22,0.45,0.08,-0.18,0.27,0.15,0.38,0.02,0.19,-0.27,0.33,0.10,0.52,-0.09,0.24,0.06,0.41,
              0.17,-0.13,0.29,0.04,0.36,0.13,-0.02,0.48,0.21,0.09,-0.32,0.26,0.16,0.57,0.00,0.30,0.11,-0.21,0.39,0.18,
              0.07,0.34,-0.07,0.23,0.44,0.14,0.01,0.28,-0.15,0.20,0.50,0.05,0.32,-0.11,0.25,0.12,0.42,-0.03,0.19,0.35,
              0.08,-0.24,0.27,0.15,0.46,0.03,0.22,-0.08,0.37,0.10,0.59,0.17,-0.01,0.30,0.06,0.40,-0.17,0.21,0.13,0.33,
              0.02,0.26,0.49,-0.12,0.18,0.09,0.36,0.14,-0.04,0.24,
              0.05,-0.22,0.28,0.14,-0.08,0.40,0.02,0.19,-0.35,0.10,0.33,-0.14,0.23,0.07,0.47,-0.03,0.16,-0.27,0.36,0.12,
              -0.10,0.26,0.00,0.44,0.18,-0.19,0.09,0.31,-0.05,0.21,0.54,0.04,-0.30,0.15,0.38,-0.12,0.27,0.08,0.01,0.34,
              -0.17,0.13,0.42,0.06,-0.07,0.24,0.17,-0.40,0.29,0.11,-0.01,0.37,0.20,-0.24,0.03,0.50,0.14,-0.09,0.22,0.32]
side_axis3 = [-0.22,-0.35,-0.18,-0.46,-0.28,-0.14,-0.40,-0.25,-0.53,-0.31,-0.19,-0.37,-0.24,-0.48,-0.16,-0.33,-0.42,-0.21,-0.57,-0.29,
              -0.38,-0.15,-0.27,-0.44,-0.20,-0.34,-0.50,-0.23,-0.13,-0.39,-0.26,-0.45,-0.17,-0.32,-0.55,-0.24,-0.41,-0.19,-0.30,-0.47,
              -0.16,-0.36,-0.22,-0.52,-0.28,-0.43,-0.18,-0.33,-0.25,-0.49,-0.14,-0.38,-0.21,-0.31,-0.56,-0.26,-0.42,-0.17,-0.35,-0.23,
              -0.46,-0.29,-0.13,-0.40,-0.20,-0.51,-0.27,-0.34,-0.16,-0.44,-0.24,-0.37,-0.58,-0.22,-0.30,-0.15,-0.48,-0.26,-0.39,-0.19,
              -0.32,-0.45,-0.21,-0.36,-0.54,-0.25,-0.18,-0.41,-0.28,-0.33,
              -0.18,-0.27,-0.36,-0.21,-0.44,-0.15,-0.31,-0.50,-0.24,-0.38,-0.19,-0.29,-0.47,-0.16,-0.34,-0.23,-0.41,-0.20,-0.53,-0.26,
              -0.33,-0.17,-0.43,-0.25,-0.30,-0.48,-0.22,-0.37,-0.15,-0.28,-0.40,-0.19,-0.45,-0.32,-0.21,-0.35,-0.51,-0.24,-0.18,-0.42,
              -0.27,-0.39,-0.16,-0.30,-0.46,-0.22,-0.34,-0.20,-0.55,-0.26,-0.37,-0.17,-0.43,-0.29,-0.23,-0.49,-0.31,-0.19,-0.38,-0.25]
side_axis4 = [0.12,-0.05,0.24,0.03,0.18,-0.14,0.31,0.08,-0.02,0.15,0.38,0.01,0.21,-0.09,0.10,0.27,-0.20,0.06,0.16,0.43,
              0.04,-0.11,0.19,0.13,-0.27,0.09,0.25,0.00,0.34,0.11,-0.06,0.17,0.07,0.29,-0.16,0.14,0.02,0.22,-0.03,0.36,
              0.10,0.20,-0.08,0.05,0.26,-0.22,0.15,0.08,0.32,-0.01,0.12,0.40,0.03,0.18,-0.12,0.23,0.06,-0.04,0.28,0.11,
              -0.18,0.16,0.01,0.35,0.09,-0.07,0.21,0.13,-0.25,0.05,0.30,0.14,-0.02,0.19,0.08,0.44,-0.10,0.24,0.04,0.17,
              0.27,-0.15,0.10,0.33,0.00,0.22,-0.05,0.12,0.37,0.07,
              0.08,0.19,-0.04,0.13,0.26,0.02,-0.12,0.15,0.07,0.31,-0.01,0.10,0.21,-0.08,0.05,0.17,0.28,0.00,0.12,-0.18,
              0.23,0.04,0.14,-0.06,0.19,0.09,0.33,-0.02,0.11,0.06,-0.14,0.20,0.03,0.25,0.13,-0.10,0.08,0.16,0.01,0.22,
              0.10,-0.03,0.18,0.30,0.05,-0.21,0.14,0.07,0.24,-0.05,0.12,0.02,0.20,0.09,-0.15,0.16,0.27,0.04,0.11,-0.01]

# isolated extreme genes
outlier_axis1 = [-0.05, 0.09, 0.15, 0.05, -0.07, -0.24, 0.115, 0.02, -0.10, 0.00]
outlier_axis2 = [0.76, 0.06, 0.38, -0.62, 0.08, -0.52, 0.32, 0.58, -0.53, -0.35]
outlier_axis3 = [0.00, -0.31, -0.29, 0.29, -0.02, 0.05, 0.48, 0.10, 0.15, -0.59]
outlier_axis4 = [-0.06, 0.71, 0.68, -0.34, -0.60, -0.10, -0.09, 0.43, -0.34, 0.41]

# highlighted genes (red)
red_axis1 = [0.08, -0.15, 0.23, 0.19, 0.14, 0.10, 0.18, 0.07, 0.115, -0.21, 0.155]
red_axis2 = [0.14, 0.20, 0.46, 0.29, 0.17, 0.17, 0.38, 0.46, 0.16, 0.165, 0.16]
red_axis3 = [0.067, 0.11, 0.10, 0.105, 0.12, 0.03, 0.087, 0.117, -0.005, 0.055, 0.062]
red_axis4 = [0.106, -0.015, -0.08, -0.106, -0.133, -0.165, -0.167, -0.21, -0.224, -0.23, -0.34]

# axis ticks
ticks_axis1 = [-1.5, -1.0, -0.5, 0.0]
ticks_axis2 = [-0.6, -0.4, -0.2, 0.0, 0.2, 0.4, 0.6]
ticks_axis3 = [-0.6, -0.4, -0.2, 0.0, 0.2, 0.4]
ticks_axis4 = [-0.6, -0.4, -0.2, 0.0, 0.2, 0.4, 0.6]

title_lines = ["PCA plot of codon usage frequency in",
               "the epsilonproteobacterial epibiont of",
               "\u201cBathymodiolus\u201d childressi"]


def group(a1, a2, a3, a4):
    n = min(len(a1), len(a2), len(a3), len(a4))
    return pd.DataFrame({"Axis1": a1[:n], "Axis2": a2[:n], "Axis3": a3[:n], "Axis4": a4[:n]})


black = pd.concat([group(tail_axis1, tail_axis2, tail_axis3, tail_axis4),
                   group(core_axis1, core_axis2, core_axis3, core_axis4),
                   group(dense_axis1, dense_axis2, dense_axis3, dense_axis4),
                   group(dense2_axis1, dense2_axis2, dense2_axis3, dense2_axis4),
                   group(side_axis1, side_axis2, side_axis3, side_axis4),
                   group(outlier_axis1, outlier_axis2, outlier_axis3, outlier_axis4)],
                  ignore_index=True)
red = group(red_axis1, red_axis2, red_axis3, red_axis4)

ticks = {"Axis1": ticks_axis1, "Axis2": ticks_axis2, "Axis3": ticks_axis3, "Axis4": ticks_axis4}
limits = {"Axis1": (-1.935, 0.355), "Axis2": (-0.65, 0.81),
          "Axis3": (-0.635, 0.52), "Axis4": (-0.645, 0.765)}


def fmt(v):
    return ("%.1f" % v).replace("-", "\u2212")


def labels_for(name, where):
    t = ticks[name]
    if name == "Axis1" and where == "y":
        keep = {-1.5, -0.5}
    elif name == "Axis1":
        keep = set(t)
    elif name == "Axis3" and where == "x":
        keep = {-0.6, -0.2, 0.0, 0.2, 0.4}
    elif name == "Axis3":
        keep = {-0.6, -0.2, 0.2}
    else:
        keep = {-0.6, -0.2, 0.2, 0.6}
    return [fmt(v) if any(abs(v - k) < 1e-9 for k in keep) else "" for v in t]


# ---------------- figure ----------------
W, H = 858, 651
fig = plt.figure(figsize=(W / 100, H / 100), dpi=100)
fig.patch.set_facecolor("white")
col_left = [34.5, 236.5, 438.5, 641.0]
row_top = [32.0, 183.0, 334.0, 485.0]
pw, ph = 192.5, 140.0

tick_kw = dict(length=4.5, width=0.8, color="#222222", labelsize=9.2, labelcolor="#111111")

for i, yname in enumerate(axis_names):
    for j, xname in enumerate(axis_names):
        if j > i:
            continue
        ax = fig.add_axes([col_left[j] / W, 1 - (row_top[i] + ph) / H, pw / W, ph / H])
        ax.set_facecolor("white")
        for sp in ax.spines.values():
            sp.set_visible(True)
            sp.set_linewidth(1.0)
            sp.set_color("#222222")
        if i == j:
            ax.text(0.5, 0.5, xname, transform=ax.transAxes, ha="center", va="center",
                    fontsize=15.3, color="#111111")
        else:
            sns.scatterplot(data=black, x=xname, y=yname, ax=ax, color="black", s=14,
                            linewidth=0, legend=False, zorder=2)
            sns.scatterplot(data=red, x=xname, y=yname, ax=ax, color="#e3262b", s=14,
                            linewidth=0, legend=False, zorder=3)
        ax.set_xlim(limits[xname])
        ax.set_ylim(limits[yname])
        ax.set_xlabel("")
        ax.set_ylabel("")
        ax.set_xticks([])
        ax.set_yticks([])

        if i == 0 and j == 0:
            ax.xaxis.tick_top()
            ax.set_xticks(ticks[xname])
            ax.set_xticklabels(labels_for(xname, "x"))
            ax.tick_params(axis="x", top=True, bottom=False, pad=3.5, **tick_kw)
        if i == 3:
            ax.set_xticks(ticks[xname])
            ax.set_xticklabels(labels_for(xname, "x"))
            ax.tick_params(axis="x", bottom=True, pad=4, **tick_kw)
        if j == 0:
            ax.set_yticks(ticks[yname])
            ax.set_yticklabels(labels_for(yname, "y"), rotation=90, va="center")
            ax.tick_params(axis="y", left=True, pad=3, **tick_kw)
        if i == 3 and j == 3:
            ax.yaxis.tick_right()
            ax.set_yticks(ticks[yname])
            ax.set_yticklabels(labels_for(yname, "y"), rotation=90, va="center")
            ax.tick_params(axis="y", right=True, left=False, pad=3, **tick_kw)

# title block
title_x = 670 / W
for k, (line, base) in enumerate(zip(title_lines, [83, 106, 128.5])):
    fig.text(title_x, 1 - base / H, line, ha="center", va="baseline", fontsize=14.2,
             color="#222222", style="italic" if k == 2 else "normal")

fig.savefig("out.png", dpi=100, facecolor="white")
